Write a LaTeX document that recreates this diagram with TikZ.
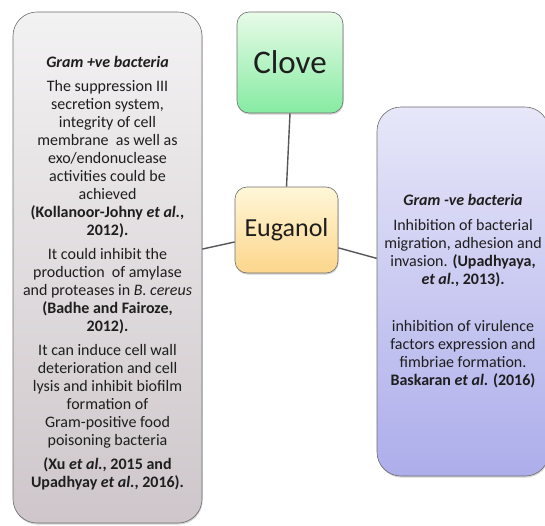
\documentclass[tikz,border=0pt]{standalone}
\usepackage{fontspec}
\setmainfont{Carlito}
\usetikzlibrary{shapes,positioning,calc,shadows}

\definecolor{edgegray}{HTML}{6E6E6E}
\definecolor{linkgray}{HTML}{55555A}
\definecolor{textdark}{HTML}{1E1E1E}
\definecolor{greytop}{HTML}{F3F2F3}
\definecolor{greybot}{HTML}{CEC6CA}
\definecolor{greentop}{HTML}{E8FBE8}
\definecolor{greenbot}{HTML}{86EBA2}
\definecolor{yellowtop}{HTML}{FFF7D8}
\definecolor{yellowbot}{HTML}{FCD68C}
\definecolor{bluetop}{HTML}{E7E7F9}
\definecolor{bluebot}{HTML}{ADADEB}

\begin{document}
\begin{tikzpicture}[x=1pt,y=-1pt,
		box/.style={draw=edgegray, line width=0.6pt, rounded corners=22pt, align=center, inner sep=0pt, text=textdark,
			drop shadow={shadow xshift=0.6pt, shadow yshift=-1.6pt, opacity=0.35}},
		link/.style={draw=linkgray, line width=1.4pt},
		body/.style={font=\fontsize{16}{18}\selectfont}]
				\useasboundingbox (0,0) rectangle (545,526);

				% Centre
				\node[box, rounded corners=12pt, top color=greentop, bottom color=greenbot,
					minimum width=106pt, minimum height=101pt, font=\fontsize{33}{36}\selectfont] (clove) at (290,62.5) {Clove};
				\node[box, rounded corners=12pt, top color=yellowtop, bottom color=yellowbot,
					minimum width=103pt, minimum height=86pt, font=\fontsize{26}{30}\selectfont] (euganol) at (286.5,230) {Euganol};

				% Gram positive
				\node[box, body, rounded corners=24pt, top color=greytop, bottom color=greybot,
					minimum width=189pt, minimum height=511pt] (leftbox) at (107.5,267.5) {%
					\rule{0pt}{23pt}\textbf{\textit{Gram +ve bacteria}}\\[6pt]
					The suppression III\\ secretion system,\\ integrity of cell\\ membrane\ \ as well as\\ exo/endonuclease\\ activities could be\\ achieved\\
					\textbf{(Kollanoor-Johny \textit{et al.},}\\ \textbf{2012).}\\[6pt]
					It could inhibit the\\ production\ \ of amylase\\ and proteases in \textit{B. cereus}\\
					\textbf{(Badhe and Fairoze,}\\ \textbf{2012).}\\[6pt]
					It can induce cell wall\\ deterioration and cell\\ lysis and inhibit biofilm\\ formation of\\ Gram-positive food\\ poisoning bacteria\\[6pt]
					\textbf{(Xu \textit{et al.}, 2015 and}\\ \textbf{Upadhyay \textit{et al.}, 2016).}};

				% Gram negative
				\node[box, body, rounded corners=24pt, top color=bluetop, bottom color=bluebot,
					minimum width=172pt, minimum height=369pt] (rightbox) at (463,291.5) {%
					\textbf{\textit{Gram -ve bacteria}}\\[7pt]
					Inhibition of bacterial\\ migration, adhesion and\\ invasion. \textbf{(Upadhyaya,}\\ \textbf{\textit{et al.}, 2013).}\\[29pt]
					inhibition of virulence\\ factors expression and\\ fimbriae formation.\\ \textbf{Baskaran \textit{et al}. (2016)}};

				% Links
				\draw[link] (clove.south) -- (euganol.north);
				\draw[link] (euganol.193) -- (leftbox.11);
				\draw[link] (euganol.-19) -- (rightbox.159);
\end{tikzpicture}
\end{document}
